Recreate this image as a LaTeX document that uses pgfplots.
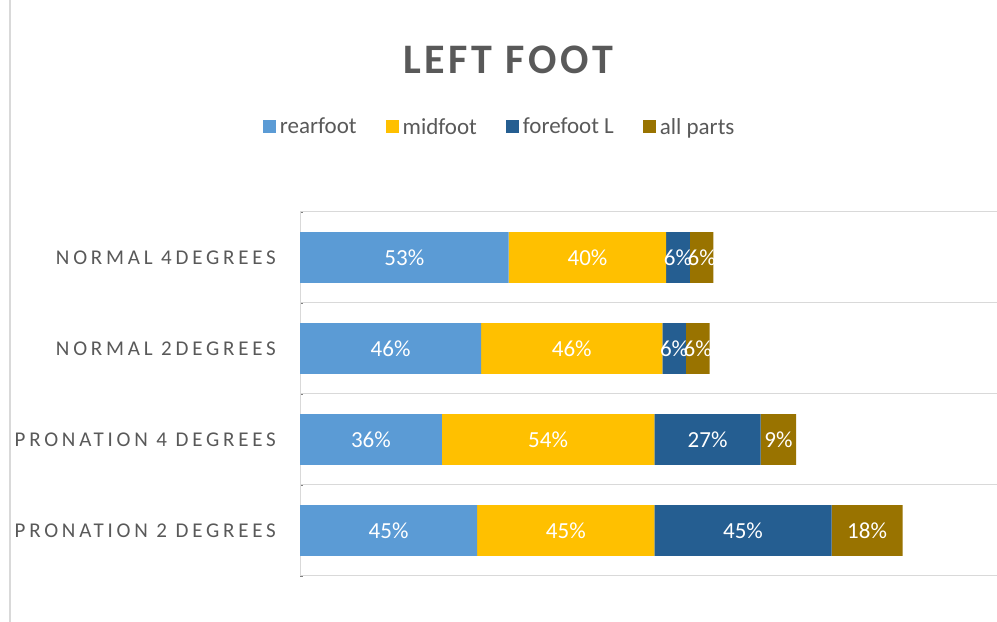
\documentclass[border=0pt]{standalone}
\usepackage{fontspec}
\setmainfont{Carlito}
\newfontfamily\spaced[LetterSpace=18]{Carlito}
\newfontfamily\titlefont[LetterSpace=9]{Carlito}
\usepackage{pgfplots}
\pgfplotsset{compat=1.18}
\definecolor{rear}{HTML}{5B9BD5}
\definecolor{mid}{HTML}{FFC000}
\definecolor{fore}{HTML}{255E91}
\definecolor{allp}{HTML}{997300}
\definecolor{txt}{HTML}{595959}
\definecolor{gridc}{HTML}{D9D9D9}
\begin{document}
\begin{tikzpicture}[x=1bp,y=1bp]
\useasboundingbox[fill=white] (0,0) rectangle (997,622);
\draw[gridc, line width=1.5bp] (10,0) -- (10,622);
\node[font=\titlefont\bfseries\fontsize{42bp}{50bp}\selectfont, text=txt] at (508,562) {LEFT FOOT};
\begin{axis}[
  at={(300bp,46bp)}, anchor=south west,
  width=697bp, height=364bp, scale only axis,
  xbar stacked, bar width=0.56,
  xmin=0, xmax=177, ymin=-0.5, ymax=3.5,
  axis x line=none, axis y line*=left,
  y axis line style={draw=gridc, line width=1bp},
  ytick={0,1,2,3},
  yticklabels={PRONATION 2 DEGREES, PRONATION 4 DEGREES, NORMAL 2DEGREES, NORMAL 4DEGREES},
  yticklabel style={font=\spaced\fontsize{21bp}{25bp}\selectfont, text=txt, anchor=east, inner sep=0pt, xshift=-24bp},
  major tick length=0pt,
  minor ytick={-0.5,0.5,1.5,2.5,3.5},
  yminorgrids, minor grid style={draw=gridc, line width=1bp},
  point meta=explicit symbolic,
  nodes near coords={\pgfplotspointmeta\%},
  every node near coord/.append style={font=\fontsize{23bp}{27bp}\selectfont, text=white, anchor=center, inner sep=0pt},
  legend columns=4,
  legend style={at={(0.288,1.234)}, anchor=center, draw=none, fill=none,
    font=\fontsize{23bp}{27bp}\selectfont, text=txt,
    /tikz/every even column/.append style={column sep=26bp}},
  legend image code/.code={\fill[#1] (0bp,-6.5bp) rectangle (13bp,6.5bp);},
  legend cell align=left,
  legend style={nodes={inner sep=3.5bp}},
]
\addplot[fill=rear, draw=none] coordinates {(45,0) [45] (36,1) [36] (46,2) [46] (53,3) [53]};
\addplot[fill=mid, draw=none] coordinates {(45,0) [45] (54,1) [54] (46,2) [46] (40,3) [40]};
\addplot[fill=fore, draw=none] coordinates {(45,0) [45] (27,1) [27] (6,2) [6] (6,3) [6]};
\addplot[fill=allp, draw=none] coordinates {(18,0) [18] (9,1) [9] (6,2) [6] (6,3) [6]};
\legend{rearfoot, midfoot, forefoot L, all parts}
\end{axis}
\end{tikzpicture}
\end{document}
